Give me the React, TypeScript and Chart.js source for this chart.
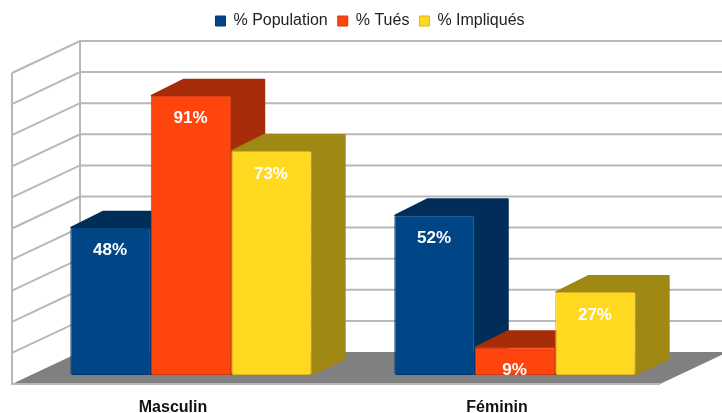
import React, { useEffect, useRef } from "react";
import { Chart, registerables } from "chart.js";

Chart.register(...registerables);

const categories = ["Masculin", "Féminin"];
const seriesNames = ["% Population", "% Tués", "% Impliqués"];
const population = [48, 52];
const tues = [91, 9];
const impliques = [73, 27];
const frontColors = ["#004586", "#ff450e", "#ffd920"];
const edgeColors = ["#003a70", "#d23c12", "#d9b41f"];
const sideColors = ["#002e58", "#a62c0a", "#a08815"];
const gridTicks = [0, 10, 20, 30, 40, 50, 60, 70, 80, 90, 100];

const FONT = "'Liberation Sans', Arial, sans-serif";
const GRID = "#b8b8b8";
const FLOOR = "#808080";
// Projection of the 3D box relative to the plane the bars stand on.
const FRONT = { dx: -17, dy: 9 };
const BACK = { dx: 51, dy: -23 };
const WALL_STRETCH = 310 / 306;
const BAR_DEPTH = { dx: 33, dy: -16 };

const poly = (ctx: CanvasRenderingContext2D, pts: number[][]) => {
  ctx.beginPath();
  pts.forEach(([x, y], i) => (i ? ctx.lineTo(x, y) : ctx.moveTo(x, y)));
  ctx.closePath();
};

const depthPlugin = {
  id: "depth3d",
  beforeInit(chart: any) {
    const legend = chart.legend;
    if (legend) {
      const fit = legend.fit;
      legend.fit = function () {
        fit.call(this);
        this.height += 29;
      };
    }
  },
  beforeDatasetsDraw(chart: any) {
    const { ctx, chartArea, scales } = chart;
    const y = scales.y;
    const y0 = y.getPixelForValue(0);
    const wall = (v: number) => (y0 - y.getPixelForValue(v)) * WALL_STRETCH;
    const xl = chartArea.left;
    const xr = chartArea.right;
    ctx.save();
    // Floor
    ctx.fillStyle = FLOOR;
    poly(ctx, [
      [xl + FRONT.dx, y0 + FRONT.dy],
      [xr + FRONT.dx, y0 + FRONT.dy],
      [xr + BACK.dx, y0 + BACK.dy],
      [xl + BACK.dx, y0 + BACK.dy],
    ]);
    ctx.fill();
    // Grid on the walls
    ctx.strokeStyle = GRID;
    ctx.lineWidth = 2;
    gridTicks.forEach((v) => {
      const h = wall(v);
      if (v > 0) {
        ctx.beginPath();
        ctx.moveTo(xl + FRONT.dx, y0 + FRONT.dy - h);
        ctx.lineTo(xl + BACK.dx, y0 + BACK.dy - h);
        ctx.lineTo(xr + BACK.dx, y0 + BACK.dy - h);
        ctx.stroke();
      }
    });
    const top = wall(100);
    ctx.beginPath();
    ctx.moveTo(xl + FRONT.dx, y0 + FRONT.dy - top);
    ctx.lineTo(xl + FRONT.dx, y0 + FRONT.dy);
    ctx.lineTo(xr + FRONT.dx, y0 + FRONT.dy);
    ctx.moveTo(xl + BACK.dx, y0 + BACK.dy - top);
    ctx.lineTo(xl + BACK.dx, y0 + BACK.dy);
    ctx.stroke();
    // Top and side faces of every bar, in drawing order
    ctx.lineJoin = "round";
    categories.forEach((_, ci) => {
      chart.data.datasets.forEach((_d: any, di: number) => {
        const bar = chart.getDatasetMeta(di).data[ci];
        const l = bar.x - bar.width / 2;
        const r = bar.x + bar.width / 2;
        const t = bar.y;
        const b = bar.base;
        ctx.fillStyle = sideColors[di];
        ctx.strokeStyle = sideColors[di];
        ctx.lineWidth = 2;
        poly(ctx, [
          [l + 1, t],
          [l + BAR_DEPTH.dx, t + BAR_DEPTH.dy],
          [r + BAR_DEPTH.dx, t + BAR_DEPTH.dy],
          [r + BAR_DEPTH.dx, b + BAR_DEPTH.dy],
          [r, b - 1],
          [r, t],
        ]);
        ctx.fill();
        ctx.stroke();
      });
    });
    ctx.restore();
  },
  afterDatasetsDraw(chart: any) {
    const { ctx } = chart;
    ctx.save();
    ctx.fillStyle = "#ffffff";
    ctx.font = `bold 17px ${FONT}`;
    ctx.textAlign = "center";
    ctx.textBaseline = "middle";
    chart.data.datasets.forEach((d: any, di: number) => {
      chart.getDatasetMeta(di).data.forEach((bar: any, i: number) => {
        ctx.fillText(`${d.data[i]}%`, bar.x - 0.5, bar.y + 23);
      });
    });
    ctx.restore();
  },
};

export default function App() {
  const ref = useRef<HTMLCanvasElement>(null);
  useEffect(() => {
    const chart = new Chart(ref.current!, {
      type: "bar",
      data: {
        labels: categories,
        datasets: [population, tues, impliques].map((data, i) => ({
          label: seriesNames[i],
          data,
          backgroundColor: frontColors[i],
          borderColor: edgeColors[i],
          borderWidth: 1,
          borderRadius: 2,
          borderSkipped: false,
          categoryPercentage: 0.745,
          barPercentage: 1,
        })),
      },
      options: {
        responsive: false,
        animation: false,
        devicePixelRatio: 1,
        layout: { padding: { left: 18, right: 0, top: 3, bottom: 0 } },
        plugins: {
          tooltip: { enabled: false },
          legend: {
            display: true,
            position: "top",
            labels: {
              boxWidth: 10,
              boxHeight: 10,
              padding: 10,
              color: "#222222",
              font: { family: FONT, size: 16 },
            },
          },
        },
        scales: {
          x: {
            grid: { display: false },
            border: { display: false },
            ticks: {
              padding: 15,
              labelOffset: -18,
              maxRotation: 0,
              color: "#111111",
              font: { family: FONT, size: 16, weight: "bold" },
            },
            afterFit: (s: any) => {
              s.height = 38;
            },
          },
          y: {
            min: 0,
            max: 100,
            grid: { display: false },
            border: { display: false },
            ticks: { display: false, stepSize: 10 },
            afterFit: (s: any) => {
              s.width = 11;
            },
          },
          yRight: {
            position: "right",
            min: 0,
            max: 100,
            grid: { display: false },
            border: { display: false },
            ticks: { display: false },
            afterFit: (s: any) => {
              s.width = 45;
            },
          },
        },
      },
      plugins: [depthPlugin],
    } as any);
    return () => chart.destroy();
  }, []);
  return (
    <canvas
      ref={ref}
      width={722}
      height={413}
      style={{ position: "absolute", left: 0, top: 0, display: "block" }}
    />
  );
}
